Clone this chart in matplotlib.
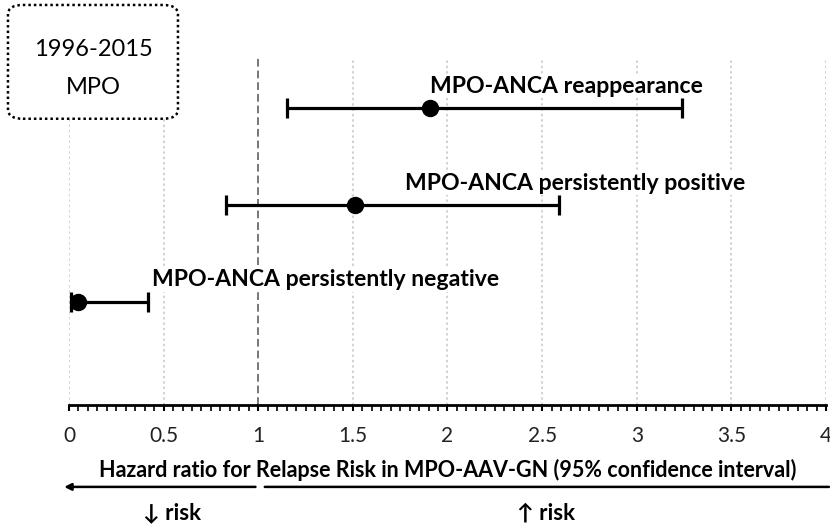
import matplotlib.pyplot as plt
from matplotlib.patches import FancyBboxPatch
from matplotlib.ticker import MultipleLocator

plt.rcParams['font.family'] = ['Lato', 'DejaVu Sans']

# ── Data ────────────────────────────────────────────────────
labels   = ["MPO-ANCA reappearance",
            "MPO-ANCA persistently positive",
            "MPO-ANCA persistently negative"]
hr       = [1.91, 1.51, 0.05]
ci_low   = [1.15, 0.83, 0.01]
ci_high  = [3.24, 2.59, 0.42]
rows     = [3, 2, 1]
label_x  = [1.91, 1.775, 0.44]   # where each label starts
xticks   = [0, 0.5, 1, 1.5, 2, 2.5, 3, 3.5, 4]
xticklabels = ["0", "0.5", "1", "1.5", "2", "2.5", "3", "3.5", "4"]
box_lines = ["1996-2015", "MPO"]

# ── Figure ──────────────────────────────────────────────────
fig = plt.figure(figsize=(8.3, 5.29), dpi=100)
ax = fig.add_axes([0.0831, 0.2344, 0.9121, 0.656])

# grid lines
for t in xticks:
    if t == 1:
        ax.axvline(t, color="#777777", lw=1.4, ls=(0, (4, 2)), zorder=0)
    else:
        ax.axvline(t, color="#c4c4c4", lw=1.1, ls=(0, (1.5, 2)), zorder=0)

err = [[h - l for h, l in zip(hr, ci_low)], [u - h for h, u in zip(hr, ci_high)]]
ax.errorbar(hr, rows, xerr=err, fmt="o", color="black", ms=11.5,
            elinewidth=2.3, capsize=7, capthick=2.3, zorder=3)

for lx, r, lab in zip(label_x, rows, labels):
    ax.text(lx, r + 0.23, lab, fontsize=16.6, fontweight="bold",
            ha="left", va="center", zorder=4,
            bbox=dict(facecolor="white", edgecolor="none", pad=1))

ax.set_xlim(0, 4)
ax.set_ylim(-0.06, 3.52)
ax.set_xticks(xticks)
ax.set_xticklabels(xticklabels, fontsize=15, color="#222222")
ax.xaxis.set_minor_locator(MultipleLocator(0.05))
ax.tick_params(axis="x", which="major", direction="out", length=4, width=1.5, pad=11)
ax.tick_params(axis="x", which="minor", direction="out", length=4, width=1.2)
ax.set_yticks([])
for s in ["top", "right", "left"]:
    ax.spines[s].set_visible(False)
ax.spines["bottom"].set_linewidth(2)
ax.spines["bottom"].set_zorder(5)

ax.set_xlabel("Hazard ratio for Relapse Risk in MPO-AAV-GN (95% confidence interval)",
              fontsize=15.5, fontweight="bold", va="center")
ax.xaxis.set_label_coords(0.5, -0.187)

# risk arrows
ax.annotate("", xy=(-0.04, -0.236), xytext=(1.0, -0.236),
            xycoords=("data", "axes fraction"), textcoords=("data", "axes fraction"),
            arrowprops=dict(arrowstyle="-|>", lw=1.8, color="black", mutation_scale=10),
            annotation_clip=False)
ax.annotate("", xy=(4.03, -0.236), xytext=(1.02, -0.236),
            xycoords=("data", "axes fraction"), textcoords=("data", "axes fraction"),
            arrowprops=dict(arrowstyle="-", lw=1.8, color="black"),
            annotation_clip=False)
ax.text(0.545, -0.311, "↓ risk", transform=ax.get_xaxis_transform(),
        fontsize=16, fontweight="bold", ha="center", va="center")
ax.text(2.52, -0.311, "↑ risk", transform=ax.get_xaxis_transform(),
        fontsize=16, fontweight="bold", ha="center", va="center")

# period box
box = FancyBboxPatch((0.0096 + 0.018, 0.7675 + 0.026), 0.2048 - 0.036, 0.2231 - 0.044,
                     boxstyle="round,pad=0.018", transform=fig.transFigure,
                     facecolor="white", edgecolor="black", lw=1.8, ls=(0, (1, 1.2)))
fig.add_artist(box)
fig.text(0.113, 1 - 49 / 529, box_lines[0], fontsize=17, ha="center", va="center")
fig.text(0.113, 1 - 88 / 529, box_lines[1], fontsize=17, ha="center", va="center")

fig.savefig("out.png", dpi=100)
